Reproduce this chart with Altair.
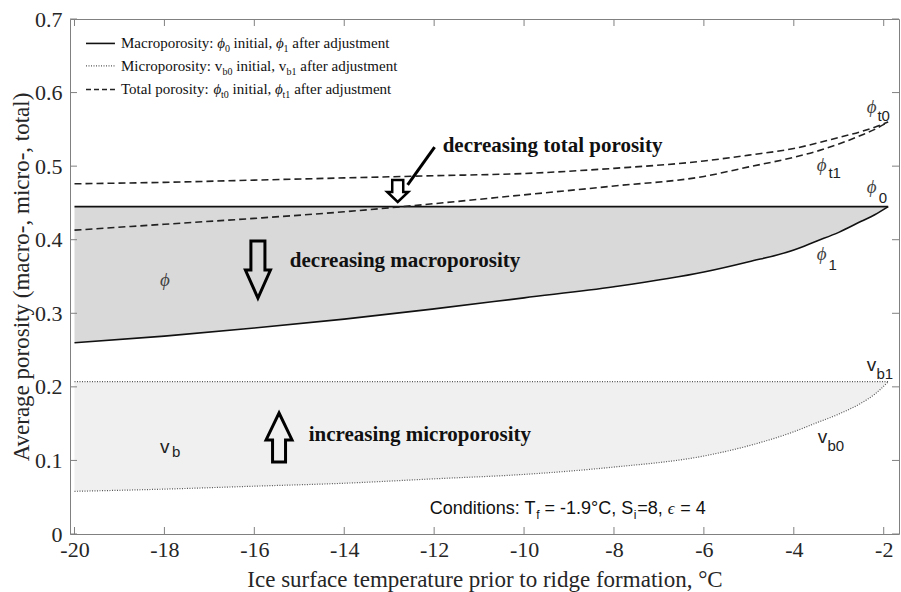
import altair as alt
import pandas as pd

# ---------------- data ----------------
temps = [-20, -18, -16, -14, -12, -10, -8, -6, -5, -4, -3.5, -3, -2.5, -2.2, -1.9]
macro_initial = [0.445, 0.445, 0.445, 0.445, 0.445, 0.445, 0.445, 0.445, 0.445, 0.445, 0.445, 0.445, 0.445, 0.445, 0.445]
macro_after = [0.260, 0.269, 0.280, 0.292, 0.306, 0.321, 0.336, 0.356, 0.370, 0.386, 0.398, 0.410, 0.425, 0.434, 0.445]
micro_initial = [0.058, 0.061, 0.065, 0.069, 0.075, 0.081, 0.091, 0.106, 0.120, 0.139, 0.151, 0.163, 0.178, 0.190, 0.207]
micro_after = [0.207, 0.207, 0.207, 0.207, 0.207, 0.207, 0.207, 0.207, 0.207, 0.207, 0.207, 0.207, 0.207, 0.207, 0.207]
total_initial = [0.476, 0.478, 0.481, 0.484, 0.487, 0.490, 0.497, 0.507, 0.515, 0.524, 0.531, 0.539, 0.547, 0.553, 0.560]
total_after = [0.413, 0.421, 0.429, 0.438, 0.449, 0.461, 0.473, 0.486, 0.499, 0.512, 0.520, 0.530, 0.542, 0.550, 0.560]

x_ticks = [-20, -18, -16, -14, -12, -10, -8, -6, -4, -2]
y_ticks = [0, 0.1, 0.2, 0.3, 0.4, 0.5, 0.6, 0.7]

x_title = "Ice surface temperature prior to ridge formation, °C"
y_title = "Average porosity (macro-, micro-, total)"

# ---------------- layout ----------------
W, H = 829, 515
XMIN, XMAX = -20.1, -1.66
YMIN, YMAX = 0.0, 0.7
SX = W / (XMAX - XMIN)          # px per x unit (for text segment offsets)
SERIF = "Liberation Serif"
SANS = "Liberation Sans"
AXC = "#808080"

xs = alt.Scale(domain=[XMIN, XMAX], nice=False, zero=False)
ys = alt.Scale(domain=[YMIN, YMAX], nice=False, zero=False)

X_AXIS = alt.Axis(
    values=x_ticks, title=x_title, domain=False, ticks=False, grid=False,
    labelFont=SERIF, labelFontSize=22, labelColor="#262626", labelPadding=5,
    labelFlush=False, labelOverlap=False,
    labelExpr="replace(datum.label, '\u2212', '-')",
    titleFont=SERIF, titleFontSize=23, titleFontWeight="normal", titleColor="#262626",
    titleY=52, titleBaseline="alphabetic")
Y_AXIS = alt.Axis(
    values=y_ticks, format=".1~f", title=y_title, domain=False, ticks=False, grid=False,
    labelFont=SERIF, labelFontSize=22, labelColor="#262626", labelPadding=8,
    labelFlush=False, labelOverlap=False,
    titleFont=SERIF, titleFontSize=23, titleFontWeight="normal", titleColor="#262626",
    titleX=-42, titleBaseline="alphabetic")


def X(f, **kw):
    return alt.X(f, type="quantitative", scale=xs, axis=X_AXIS, title=x_title, **kw)


def Y(f, **kw):
    return alt.Y(f, type="quantitative", scale=ys, axis=Y_AXIS, title=y_title, **kw)


wide = pd.DataFrame({
    "T": temps, "phi0": macro_initial, "phi1": macro_after,
    "vb0": micro_initial, "vb1": micro_after,
})

series = [
    ("phi0", "solid", macro_initial), ("phi1", "solid", macro_after),
    ("vb0", "dotted", micro_initial), ("vb1", "dotted", micro_after),
    ("phit0", "dashed", total_initial), ("phit1", "dashed", total_after),
]
rows = []
for name, kind, vals in series:
    for t, v in zip(temps, vals):
        rows.append({"T": t, "v": v, "s": name, "kind": kind})
long = pd.DataFrame(rows)

macro_area = alt.Chart(wide).mark_area(color="#d9d9d9", interpolate="monotone").encode(
    x=X("T"), y=Y("phi1"), y2="phi0:Q")
micro_area = alt.Chart(wide).mark_area(color="#f0f0f0", interpolate="monotone").encode(
    x=X("T"), y=Y("vb0"), y2="vb1:Q")

solid = alt.Chart(long).transform_filter("datum.kind == 'solid'").mark_line(
    color="#111111", strokeWidth=1.6, interpolate="monotone").encode(x=X("T"), y=Y("v"), detail="s:N")
dotted = alt.Chart(long).transform_filter("datum.kind == 'dotted'").mark_line(
    color="#555555", strokeWidth=1.2, strokeDash=[1, 1.5], interpolate="monotone").encode(
    x=X("T"), y=Y("v"), detail="s:N")
dashed = alt.Chart(long).transform_filter("datum.kind == 'dashed'").mark_line(
    color="#222222", strokeWidth=1.6, strokeDash=[7, 4], interpolate="monotone").encode(
    x=X("T"), y=Y("v"), detail="s:N")

# inward ticks on all four sides
xt = pd.DataFrame({"t": x_ticks})
yt = pd.DataFrame({"t": y_ticks})
tick_bottom = alt.Chart(xt).mark_rule(color=AXC).encode(x=X("t"), y=alt.value(H), y2=alt.value(H - 7))
tick_top = alt.Chart(xt).mark_rule(color=AXC).encode(x=X("t"), y=alt.value(0), y2=alt.value(7))
tick_left = alt.Chart(yt).mark_rule(color=AXC).encode(y=Y("t"), x=alt.value(0), x2=alt.value(7))
tick_right = alt.Chart(yt).mark_rule(color=AXC).encode(y=Y("t"), x=alt.value(W), x2=alt.value(W - 7))

# ---------------- legend (drawn inside the plot) ----------------
LEG_X0 = -18.966
LEG_LINE_X = [-19.744, -19.10]
leg_base_y = [0.6606, 0.6300, 0.5980]
leg_line_y = [0.6668, 0.6363, 0.6042]
leg_line_kind = ["solid", "dotted", "dashed"]

leg_text = ["Macroporosity:", "ϕ", "0", "initial,", "ϕ", "1", "after adjustment",
            "Microporosity: v", "b0", "initial, v", "b1", "after adjustment",
            "Total porosity:", "ϕ", "t0", "initial,", "ϕ", "t1", "after adjustment"]
leg_kind = ["txt", "sym", "sub", "txt", "sym", "sub", "txt",
            "txt", "sub", "txt", "sub", "txt",
            "txt", "sym", "sub", "txt", "sym", "sub", "txt"]
leg_row = [0] * 7 + [1] * 5 + [2] * 7
leg_off = [0, 96.2, 104, 112.5, 155, 162.5, 171.3,
           0, 101.5, 115.3, 165.5, 179.3,
           0, 92.5, 100, 111.6, 154.1, 161.6, 173.2]
leg_df = pd.DataFrame({
    "x": [LEG_X0 + o / SX for o in leg_off],
    "y": [leg_base_y[r] for r in leg_row],
    "text": leg_text, "kind": leg_kind,
})
leg_lines = pd.DataFrame({"x": [LEG_LINE_X[0]] * 3, "x2": [LEG_LINE_X[1]] * 3,
                          "y": leg_line_y, "kind": leg_line_kind})

leg_solid = alt.Chart(leg_lines).transform_filter("datum.kind == 'solid'").mark_rule(
    color="#111111", strokeWidth=1.6).encode(x=X("x"), x2="x2:Q", y=Y("y"))
leg_dotted = alt.Chart(leg_lines).transform_filter("datum.kind == 'dotted'").mark_rule(
    color="#555555", strokeWidth=1.2, strokeDash=[1, 1.5]).encode(x=X("x"), x2="x2:Q", y=Y("y"))
leg_dashed = alt.Chart(leg_lines).transform_filter("datum.kind == 'dashed'").mark_rule(
    color="#222222", strokeWidth=1.6, strokeDash=[5, 3]).encode(x=X("x"), x2="x2:Q", y=Y("y"))


def seg_layer(df, kind, **mk):
    return alt.Chart(df).transform_filter(f"datum.kind == '{kind}'").mark_text(
        align="left", **mk).encode(x=X("x"), y=Y("y"), text="text:N")


leg_txt = seg_layer(leg_df, "txt", font=SERIF, fontSize=15, baseline="alphabetic", color="#111111")
leg_sym = seg_layer(leg_df, "sym", font=SERIF, fontSize=15, fontStyle="italic", baseline="alphabetic", color="#111111")
leg_sub = seg_layer(leg_df, "sub", font=SERIF, fontSize=10, baseline="alphabetic", dy=4, color="#111111")

# ---------------- curve labels ----------------
lab_text = ["ϕ", "t0", "ϕ", "t1", "ϕ", "0", "ϕ", "1", "v", "b1", "v", "b0", "ϕ", "v", "b"]
lab_kind = ["sym", "sub", "sym", "sub", "sym", "sub", "sym", "sub", "v", "sub", "v", "sub", "sym", "v", "sub"]
lab_x = [-2.38, -2.14, -3.49, -3.23, -2.38, -2.11, -3.49, -3.23, -2.38, -2.16, -3.47, -3.25, -18.1, -18.1, -17.83]
lab_y = [0.580, 0.568, 0.5015, 0.4907, 0.4716, 0.4567, 0.3806, 0.3656, 0.2297, 0.2175, 0.1318, 0.1196, 0.3452, 0.1182, 0.1115]
lab_df = pd.DataFrame({"x": lab_x, "y": lab_y, "text": lab_text, "kind": lab_kind})

lab_sym = seg_layer(lab_df, "sym", font=SERIF, fontSize=19, fontStyle="italic", baseline="middle", color="#444444")
lab_v = seg_layer(lab_df, "v", font=SANS, fontSize=19, baseline="middle", color="#222222")
lab_sub = seg_layer(lab_df, "sub", font=SANS, fontSize=15, baseline="middle", color="#222222")

# ---------------- bold annotations ----------------
note_text = ["decreasing total porosity", "decreasing macroporosity", "increasing microporosity"]
note_x = [-11.81, -15.21, -14.79]
note_y = [0.5196, 0.3633, 0.1268]
notes_df = pd.DataFrame({"x": note_x, "y": note_y, "text": note_text})
notes = alt.Chart(notes_df).mark_text(
    align="left", baseline="alphabetic", font=SERIF, fontSize=21, fontWeight="bold", color="#111111"
).encode(x=X("x"), y=Y("y"), text="text:N")

# conditions line
COND_X0, COND_Y = -12.10, 0.0272
cond_text = ["Conditions: T", "f", "= -1.9°C, S", "i", "=8,", "ϵ", "= 4"]
cond_kind = ["txt", "sub", "txt", "sub", "txt", "eps", "txt"]
cond_off = [0, 106.5, 114.8, 204, 207.5, 238, 250.5]
cond_df = pd.DataFrame({"x": [COND_X0 + o / SX for o in cond_off], "y": [COND_Y] * 7,
                        "text": cond_text, "kind": cond_kind})
cond_txt = seg_layer(cond_df, "txt", font=SANS, fontSize=18, baseline="alphabetic", color="#111111")
cond_sub = seg_layer(cond_df, "sub", font=SANS, fontSize=12, baseline="alphabetic", dy=5, color="#111111")
cond_eps = seg_layer(cond_df, "eps", font=SERIF, fontSize=17, fontStyle="italic", baseline="alphabetic", color="#111111")

# hollow block arrows
DOWN_BIG = "M -0.246 -1 L 0.246 -1 L 0.246 0.02 L 0.439 0.02 L 0 1 L -0.439 0.02 L -0.246 0.02 Z"
UP = "M 0 -1 L 0.53 0.1 L 0.265 0.1 L 0.265 1 L -0.265 1 L -0.265 0.1 L -0.53 0.1 Z"
DOWN_SMALL = "M -0.5 -1 L 0.5 -1 L 0.5 0.09 L 0.955 0.09 L 0 1 L -0.955 0.09 L -0.5 0.09 Z"

arrow_big = alt.Chart(pd.DataFrame({"x": [-15.92], "y": [0.3595]})).mark_point(
    shape=DOWN_BIG, size=3249, filled=False, color="black", strokeWidth=3, opacity=1
).encode(x=X("x"), y=Y("y"))
arrow_up = alt.Chart(pd.DataFrame({"x": [-15.45], "y": [0.1312]})).mark_point(
    shape=UP, size=2401, filled=False, color="black", strokeWidth=3, opacity=1
).encode(x=X("x"), y=Y("y"))
arrow_small = alt.Chart(pd.DataFrame({"x": [-12.81], "y": [0.4662]})).mark_point(
    shape=DOWN_SMALL, size=484, filled=False, color="black", strokeWidth=2.5, opacity=1
).encode(x=X("x"), y=Y("y"))
pointer = alt.Chart(pd.DataFrame({"x": [-12.59], "y": [0.4744], "x2": [-11.99], "y2": [0.526]})).mark_rule(
    color="black", strokeWidth=3
).encode(x=X("x"), y=Y("y"), x2="x2:Q", y2="y2:Q")

chart = alt.layer(
    macro_area, micro_area, solid, dotted, dashed,
    tick_bottom, tick_top, tick_left, tick_right,
    leg_solid, leg_dotted, leg_dashed, leg_txt, leg_sym, leg_sub,
    lab_sym, lab_v, lab_sub, notes, cond_txt, cond_sub, cond_eps,
    arrow_big, arrow_up, arrow_small, pointer,
).properties(
    width=W, height=H,
    padding={"left": 70, "top": 19, "right": 2, "bottom": 58},
    autosize=alt.AutoSizeParams(type="none"),
    background="white",
).configure_view(stroke=AXC, strokeWidth=1)

chart.save("out.html", embed_options={"renderer": "svg", "actions": False})
